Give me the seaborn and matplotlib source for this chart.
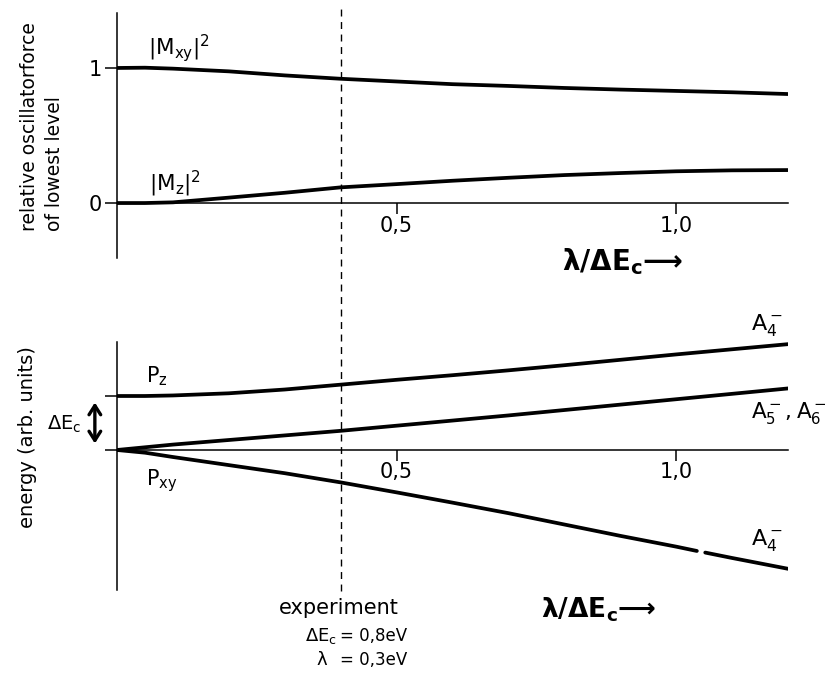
import numpy as np
import pandas as pd
import matplotlib
matplotlib.use("Agg")
import matplotlib.pyplot as plt
import matplotlib.transforms as mtransforms
import seaborn as sns

# ---- oscillator strengths of the lowest level vs. lambda / Delta E_c ----
lam_osc = [0.0, 0.05, 0.1, 0.2, 0.3, 0.4, 0.5, 0.6, 0.7, 0.8, 0.9, 1.0, 1.1, 1.2]
m_xy = [1.0, 1.002, 0.995, 0.975, 0.945, 0.92, 0.90, 0.88, 0.867, 0.852, 0.84, 0.83, 0.82, 0.807]
m_z = [0.0, 0.0, 0.005, 0.04, 0.076, 0.116, 0.14, 0.165, 0.187, 0.207, 0.222, 0.235, 0.242, 0.244]

# ---- energy levels (units of Delta E_c) ----
lam_en = [0.0, 0.05, 0.1, 0.2, 0.3, 0.4, 0.5, 0.6, 0.7, 0.8, 0.9, 1.0, 1.1, 1.2]
e_a4_up = [1.0, 1.0, 1.01, 1.05, 1.12, 1.21, 1.30, 1.385, 1.475, 1.57, 1.67, 1.77, 1.865, 1.96]
e_a56 = [0.0, 0.05, 0.10, 0.185, 0.27, 0.355, 0.45, 0.545, 0.64, 0.74, 0.84, 0.94, 1.04, 1.14]
# lower A4- branch, drawn in two pieces (small break near 1.04)
lam_low = [0.0, 0.05, 0.1, 0.2, 0.3, 0.4, 0.5, 0.6, 0.7, 0.8, 0.9, 1.0, 1.037, 1.052, 1.1, 1.2]
e_a4_low = [0.0, -0.05, -0.13, -0.28, -0.43, -0.60, -0.785, -0.975, -1.17, -1.38, -1.59, -1.79,
            -1.87, -1.90, -2.0, -2.2]
low_break = 1.045

lam_experiment = 0.4
osc_ticks = [0, 1]
osc_ticklabels = ["0", "1"]
x_ticks = [0.5, 1.0]
x_ticklabels = ["0,5", "1,0"]

sns.set_theme(style="white")
plt.rcParams["font.family"] = ["DejaVu Sans"]
plt.rcParams["mathtext.fontset"] = "dejavusans"
plt.rcParams["text.color"] = "black"
plt.rcParams["axes.labelcolor"] = "black"
plt.rcParams["xtick.color"] = "black"
plt.rcParams["ytick.color"] = "black"

W, H = 829, 677
fig = plt.figure(figsize=(W / 100, H / 100), dpi=100)
fig.patch.set_facecolor("white")


def fx(px):
    return px / W


def fy(py):
    return 1 - py / H


LW = 2.7
AXW = 1.1

ax1 = fig.add_axes([fx(117), fy(258), fx(788) - fx(117), fy(13) - fy(258)])
ax2 = fig.add_axes([fx(117), fy(590), fx(788) - fx(117), fy(342) - fy(590)])

osc = pd.DataFrame({"lam": lam_osc, "Mxy": m_xy, "Mz": m_z})
sns.lineplot(data=osc, x="lam", y="Mxy", ax=ax1, color="black", lw=LW)
sns.lineplot(data=osc, x="lam", y="Mz", ax=ax1, color="black", lw=LW)

en = pd.DataFrame({"lam": lam_en, "up": e_a4_up, "mid": e_a56})
sns.lineplot(data=en, x="lam", y="up", ax=ax2, color="black", lw=LW)
sns.lineplot(data=en, x="lam", y="mid", ax=ax2, color="black", lw=LW)
low = pd.DataFrame({"lam": lam_low, "e": e_a4_low})
low["piece"] = np.where(low["lam"] < low_break, "a", "b")
sns.lineplot(data=low, x="lam", y="e", units="piece", estimator=None, ax=ax2,
             color="black", lw=LW)

for ax in (ax1, ax2):
    ax.set_facecolor("none")
    ax.set_xlim(0, 1.2)
    for s in ("top", "right"):
        ax.spines[s].set_visible(False)
    ax.spines["left"].set_linewidth(AXW)
    ax.spines["bottom"].set_linewidth(AXW)
    ax.spines["left"].set_color("black")
    ax.spines["bottom"].set_color("black")
    ax.spines["bottom"].set_position(("data", 0))
    ax.set_xticks(x_ticks)
    ax.set_xticklabels(x_ticklabels)
    ax.tick_params(axis="x", direction="out", length=8, width=AXW, pad=1,
                   labelsize=15, colors="black", bottom=True)
    ax.tick_params(axis="y", direction="out", length=9, width=AXW, pad=2,
                   labelsize=15, colors="black", left=True)
    ax.set_xlabel("")
    ax.set_ylabel("")
    ax.grid(False)

ax1.set_ylim(-0.407, 1.407)
ax1.set_yticks(osc_ticks)
ax1.set_yticklabels(osc_ticklabels)

ax2.set_ylim(-2.593, 2.0)
ax2.set_yticks([0, 1])
ax2.set_yticklabels([])

# curve labels
ax1.text(0.055, 1.096, r"$|\mathrm{M}_{\mathrm{xy}}|^2$", fontsize=15.5, ha="left", va="baseline")
ax1.text(0.057, 0.089, r"$|\mathrm{M}_{\mathrm{z}}|^2$", fontsize=15.5, ha="left", va="baseline")
ax2.text(0.052, 1.26, r"$\mathrm{P}_{\mathrm{z}}$", fontsize=15, ha="left", va="baseline")
ax2.text(0.052, -0.65, r"$\mathrm{P}_{\mathrm{xy}}$", fontsize=15, ha="left", va="baseline")
ax2.text(1.134, 2.22, r"$\mathrm{A}_4^-$", fontsize=16, ha="left", va="baseline", clip_on=False)
ax2.text(1.134, 0.59, r"$\mathrm{A}_5^-,\mathrm{A}_6^-$", fontsize=15.5, ha="left",
         va="baseline", clip_on=False)
ax2.text(1.134, -1.76, r"$\mathrm{A}_4^-$", fontsize=16, ha="left", va="baseline", clip_on=False)

# Delta E_c gap marker
gap_tr = mtransforms.blended_transform_factory(ax2.transAxes, ax2.transData)
ax2.annotate("", xy=(-0.033, 0.12), xytext=(-0.033, 0.88), xycoords=gap_tr,
             textcoords=gap_tr, annotation_clip=False,
             arrowprops=dict(arrowstyle="<->, head_length=0.55, head_width=0.35",
                             color="black", lw=2.4, shrinkA=0, shrinkB=0))
fig.text(fx(64), fy(424), r"$\Delta\mathrm{E}_\mathrm{c}$", fontsize=14, ha="center", va="center")

# axis labels
fig.text(fx(42), fy(231), "relative oscillatorforce\nof lowest level", rotation=90,
         fontsize=13.5, ha="center", va="bottom", multialignment="left", linespacing=1.4)
fig.text(fx(28), fy(437), "energy (arb. units)", rotation=90, fontsize=14,
         ha="center", va="center")

fig.text(fx(623), fy(262), r"λ/ΔE$_\mathbf{c}$⟶", fontsize=20, fontweight="bold",
         ha="center", va="center")
fig.text(fx(599), fy(610), r"λ/ΔE$_\mathbf{c}$⟶", fontsize=19, fontweight="bold",
         ha="center", va="center")

# experimental ratio, dashed line through both panels
vtr = mtransforms.blended_transform_factory(ax2.transData, fig.transFigure)
ax2.plot([lam_experiment, lam_experiment], [fy(591), fy(7)], transform=vtr,
         color="black", lw=1.0, ls=(0, (5, 4)), clip_on=False)

fig.text(fx(399), fy(608), "experiment", fontsize=15, ha="right", va="center")
fig.text(fx(337), fy(636), r"$\Delta\mathrm{E}_\mathrm{c}$", fontsize=13, ha="right", va="center")
fig.text(fx(340), fy(636), "= 0,8eV", fontsize=12, ha="left", va="center")
fig.text(fx(327), fy(660), "λ", fontsize=13, ha="right", va="center")
fig.text(fx(340), fy(660), "= 0,3eV", fontsize=12, ha="left", va="center")

fig.savefig("out.png", dpi=100, facecolor="white")
